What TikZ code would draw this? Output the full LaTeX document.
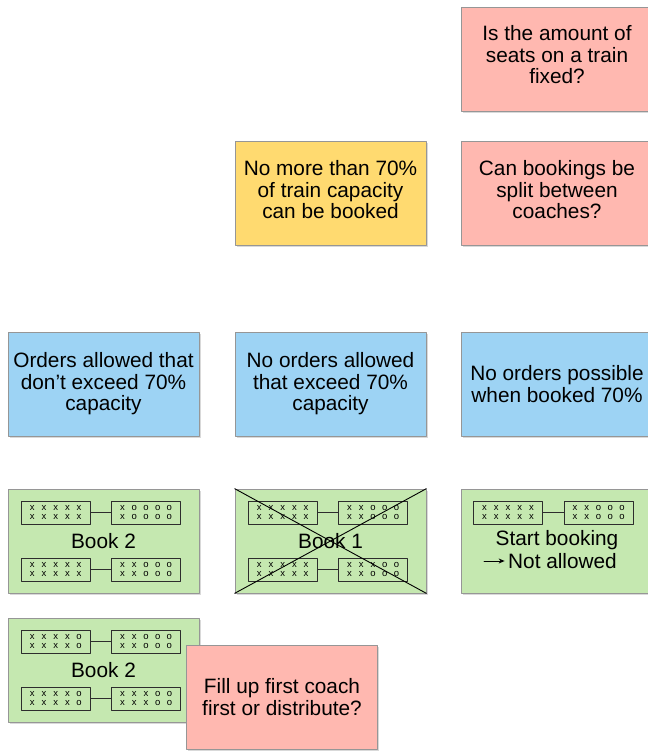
\documentclass[tikz,border=0pt]{standalone}
\usepackage{fontspec}
\setmainfont{Liberation Sans}
\usetikzlibrary{shadows,arrows.meta}
\definecolor{notered}{RGB}{255,184,176}
\definecolor{noteyellow}{RGB}{255,218,112}
\definecolor{noteblue}{RGB}{157,211,244}
\definecolor{notegreen}{RGB}{197,232,176}
\definecolor{noteline}{RGB}{150,150,150}
\definecolor{coachline}{RGB}{45,45,45}
\newcommand{\seats}[5]{\makebox[11.7pt]{#1}\makebox[11.7pt]{#2}\makebox[11.7pt]{#3}\makebox[11.7pt]{#4}\makebox[11.7pt]{#5}}
\begin{document}
\begin{tikzpicture}[x=1pt, y=-1pt, font=\fontsize{20.8}{21.5}\selectfont, line join=round, line cap=round,
	note/.style={draw=noteline, line width=0.7pt, minimum width=191pt, minimum height=104pt, inner sep=0pt, align=center,
		drop shadow={shadow xshift=1.5pt, shadow yshift=-2pt, opacity=0.3}},
	coach/.style={draw=coachline, line width=0.9pt, minimum width=69pt, minimum height=23pt, inner sep=0pt, align=center,
		font=\fontsize{9.5}{9}\selectfont}]
	\useasboundingbox (0,0) rectangle (647,751);
	\node[note, fill=notered, text depth=9pt] (q1) at (557,59) {Is the amount of\\seats on a train\\fixed?};
	\node[note, fill=noteyellow, text depth=7pt] (limit) at (330.5,193) {No more than 70\%\\of train capacity\\can be booked};
	\node[note, fill=notered, text depth=7pt] (q2) at (557,193) {Can bookings be\\split between\\coaches?};
	\node[note, fill=noteblue] (o1) at (103.5,384) {Orders allowed that\\don't exceed 70\%\\capacity};
	\node[note, fill=noteblue] (o2) at (330.5,384) {No orders allowed\\that exceed 70\%\\capacity};
	\node[note, fill=noteblue] (o3) at (557,384) {No orders possible\\when booked 70\%};
	\node[note, fill=notegreen] (g1) at (103.5,541) {Book 2};
	\node[note, fill=notegreen] (g2) at (330.5,541) {Book 1};
	\node[note, fill=notegreen] (g3) at (557,541) {};
	\node[note, fill=notegreen] (g4) at (103.5,670) {Book 2};
	\node (g3start) at (557,540) {Start booking};
	\node (g3stop) at (562.5,561) {Not allowed};
	\coordinate (g3arrow) at (484,561);
	\draw[-{Stealth[length=6pt, width=5pt]}, line width=0.9pt] (g3arrow)--(g3stop.west);
	\node[coach] (g1a) at (55.7,512.5) {\seats xxxxx\\\seats xxxxx};
	\node[coach] (g1b) at (146,512.5) {\seats xoooo\\\seats xoooo};
	\node[coach] (g1c) at (55.7,569.5) {\seats xxxxx\\\seats xxxxx};
	\node[coach] (g1d) at (146,569.5) {\seats xxooo\\\seats xxooo};
	\node[coach] (g2a) at (282.7,512.5) {\seats xxxxx\\\seats xxxxx};
	\node[coach] (g2b) at (373,512.5) {\seats xxooo\\\seats xxooo};
	\node[coach] (g2c) at (282.7,569.5) {\seats xxxxx\\\seats xxxxx};
	\node[coach] (g2d) at (373,569.5) {\seats xxxoo\\\seats xxooo};
	\node[coach] (g3a) at (508,512.5) {\seats xxxxx\\\seats xxxxx};
	\node[coach] (g3b) at (598.5,512.5) {\seats xxooo\\\seats xxooo};
	\node[coach] (g4a) at (55.7,641.5) {\seats xxxxo\\\seats xxxxo};
	\node[coach] (g4b) at (146,641.5) {\seats xxooo\\\seats xxooo};
	\node[coach] (g4c) at (55.7,698.5) {\seats xxxxo\\\seats xxxxo};
	\node[coach] (g4d) at (146,698.5) {\seats xxxoo\\\seats xxxoo};
	\draw[coachline, line width=0.9pt]
	(g1a)--(g1b) (g1c)--(g1d)
	(g2a)--(g2b) (g2c)--(g2d)
	(g3a)--(g3b)
	(g4a)--(g4b) (g4c)--(g4d)
	;
	\draw[line width=0.9pt]
	(g2.north west)--(g2.south east)
	(g2.south west)--(g2.north east)
	;
	\node[note, fill=notered] (q3) at (282,697) {Fill up first coach\\first or distribute?};
\end{tikzpicture}
\end{document}
